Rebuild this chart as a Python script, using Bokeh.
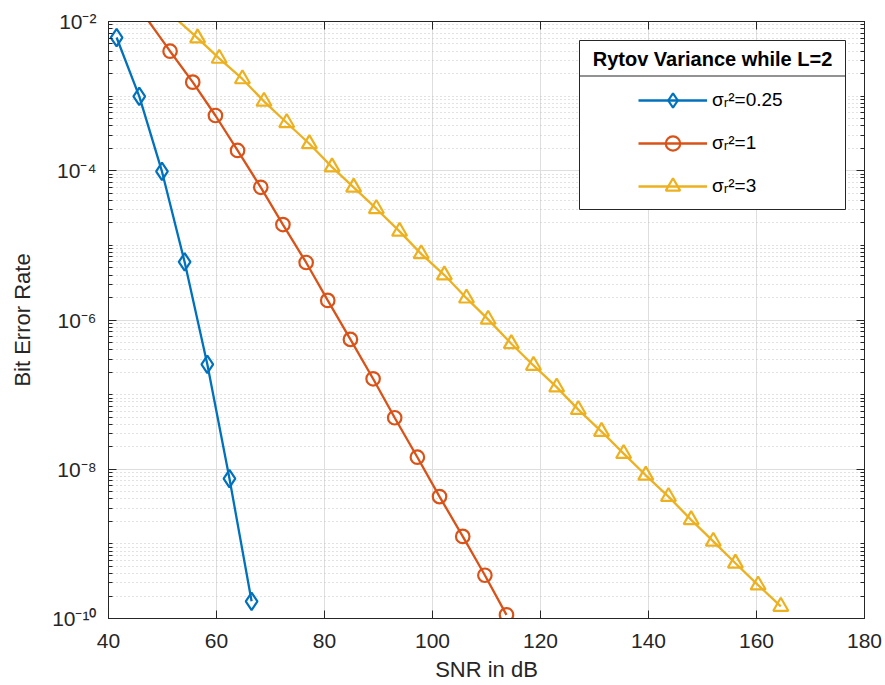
import numpy as np
from bokeh.plotting import figure
from bokeh.models import (FixedTicker, LinearAxis, LogAxis, CustomJSTickFormatter,
                          Legend, LegendItem, BoxAnnotation, Label)
from bokeh.embed import file_html
from bokeh.resources import INLINE

# ---------------- data ----------------
snr_025 = [41.5, 45.7, 49.9, 54.1, 58.3, 62.4, 66.5]
ber_025 = [6.1e-3, 9.9e-4, 9.8e-5, 6.0e-6, 2.55e-7, 7.5e-9, 1.7e-10]

snr_1 = [47.3, 51.4, 55.6, 59.8, 63.9, 68.2, 72.3, 76.6, 80.6, 84.8, 89.0,
         93.0, 97.2, 101.3, 105.6, 109.7, 113.7]
ber_1 = [1.04e-2, 4.0e-3, 1.54e-3, 5.5e-4, 1.87e-4, 6.0e-5, 1.9e-5, 5.9e-6,
         1.83e-6, 5.5e-7, 1.63e-7, 4.9e-8, 1.45e-8, 4.3e-9, 1.26e-9, 3.8e-10,
         1.12e-10]

snr_3 = [52.3, 56.5, 60.5, 64.8, 68.8, 73.0, 77.2, 81.4, 85.4, 89.6, 93.9,
         97.9, 102.2, 106.3, 110.3, 114.6, 118.7, 123.0, 127.0, 131.3, 135.4,
         139.5, 143.7, 147.9, 152.0, 156.1, 160.3, 164.5]
ber_3 = [1.12e-2, 6.0e-3, 3.2e-3, 1.7e-3, 8.5e-4, 4.4e-4, 2.3e-4, 1.12e-4,
         6.0e-5, 3.1e-5, 1.54e-5, 7.7e-6, 4.0e-6, 1.96e-6, 1.02e-6, 4.8e-7,
         2.46e-7, 1.26e-7, 6.3e-8, 3.2e-8, 1.62e-8, 8.3e-9, 4.3e-9, 2.1e-9,
         1.08e-9, 5.5e-10, 2.8e-10, 1.45e-10]

x_ticks = [40, 60, 80, 100, 120, 140, 160, 180]
y_ticks = [1e-10, 1e-8, 1e-6, 1e-4, 1e-2]
series_labels = ["σᵣ²=0.25", "σᵣ²=1", "σᵣ²=3"]
legend_title = "Rytov Variance while L=2"
x_label = "SNR in dB"
y_label = "Bit Error Rate"

X_MIN, X_MAX = 40, 180
Y_MIN, Y_MAX = 1e-10, 1e-2

# ---------------- styling ----------------
FONT = "Liberation Sans"
AX_COL = "#262626"
COLORS = ["#0072BD", "#D95319", "#EDB120"]

W, H = 885, 685
LEFT, RIGHT, TOP, BOTTOM = 108, 21, 21, 67

p = figure(width=W, height=H, x_range=(X_MIN, X_MAX), y_range=(Y_MIN, Y_MAX),
           y_axis_type="log", output_backend="svg", toolbar_location=None,
           min_border_left=LEFT, min_border_right=RIGHT,
           min_border_top=TOP, min_border_bottom=BOTTOM)
p.background_fill_color = "white"
p.border_fill_color = "white"
p.outline_line_color = AX_COL
p.outline_line_width = 1

minor_y = [m * 10.0 ** k for k in range(-10, -2) for m in range(1, 10)
           if not (m == 1 and k % 2 == 0)]

def xt():
    return FixedTicker(ticks=x_ticks, minor_ticks=[])

def yt():
    return FixedTicker(ticks=y_ticks, minor_ticks=minor_y)

fmt_pow = CustomJSTickFormatter(code="""
const sup = {'-':'\u207b','0':'\u2070','1':'\u00b9','2':'\u00b2','3':'\u00b3','4':'\u2074',
             '5':'\u2075','6':'\u2076','7':'\u2077','8':'\u2078','9':'\u2079'};
const e = Math.round(Math.log10(tick));
return '10' + String(e).split('').map(c => sup[c]).join('');
""")

def style_axis(ax):
    ax.axis_line_color = AX_COL
    ax.axis_line_width = 1
    ax.major_tick_line_color = AX_COL
    ax.minor_tick_line_color = AX_COL
    ax.major_tick_in = 8
    ax.major_tick_out = 0
    ax.major_label_text_font = FONT
    ax.major_label_text_font_size = "21px"
    ax.major_label_text_color = AX_COL
    ax.axis_label_text_font = FONT
    ax.axis_label_text_font_size = "22px"
    ax.axis_label_text_font_style = "normal"
    ax.axis_label_text_color = AX_COL

xa = p.xaxis[0]
xa.ticker = xt()
style_axis(xa)
xa.minor_tick_in = 0
xa.minor_tick_out = 0
xa.major_label_standoff = 15
xa.axis_label = x_label
xa.axis_label_standoff = 6

ya = p.yaxis[0]
ya.ticker = yt()
ya.formatter = fmt_pow
style_axis(ya)
ya.minor_tick_in = 4
ya.minor_tick_out = 0
ya.major_label_standoff = 12
ya.axis_label = y_label
ya.axis_label_standoff = 14

blank = CustomJSTickFormatter(code="return '';")
top_ax = LinearAxis(ticker=xt(), formatter=blank)
style_axis(top_ax)
top_ax.minor_tick_in = 0
top_ax.minor_tick_out = 0
top_ax.major_label_standoff = 0
top_ax.major_label_text_font_size = "1px"
p.add_layout(top_ax, "above")

right_ax = LogAxis(ticker=yt(), formatter=CustomJSTickFormatter(code="return '';"))
style_axis(right_ax)
right_ax.minor_tick_in = 4
right_ax.minor_tick_out = 0
right_ax.major_label_standoff = 0
right_ax.major_label_text_font_size = "1px"
p.add_layout(right_ax, "right")

# grids
p.xgrid.ticker = xt()
p.xgrid.grid_line_color = "#dedede"
p.xgrid.grid_line_width = 1
p.ygrid.ticker = yt()
p.ygrid.grid_line_color = "#dedede"
p.ygrid.grid_line_width = 1
p.ygrid.minor_grid_line_color = "#c4c4c4"
p.ygrid.minor_grid_line_dash = "1 3"
p.ygrid.minor_grid_line_width = 1

# ---------------- series ----------------
series = [(snr_025, ber_025, "diamond", 17.5),
          (snr_1, ber_1, "circle", 13.5),
          (snr_3, ber_3, "triangle", 15)]

items = []
for (xs, ys, mk, sz), col, lab in zip(series, COLORS, series_labels):
    ln = p.line(xs, ys, line_color=col, line_width=2.3)
    vis = [i for i, v in enumerate(ys) if v <= Y_MAX]
    sc = p.scatter([xs[i] for i in vis], [ys[i] for i in vis], marker=mk, size=sz,
                   line_color=col, line_width=2.2, fill_alpha=0)
    items.append(LegendItem(label=lab, renderers=[ln, sc]))

# ---------------- legend ----------------
box = BoxAnnotation(left=579, right=845, top=40, bottom=209,
                    left_units="canvas", right_units="canvas",
                    top_units="canvas", bottom_units="canvas",
                    fill_color="white", fill_alpha=1.0,
                    line_color=AX_COL, line_alpha=1.0, line_width=1)
p.add_layout(box)
sep = BoxAnnotation(left=579, right=845, top=75, bottom=76,
                    left_units="canvas", right_units="canvas",
                    top_units="canvas", bottom_units="canvas",
                    fill_color=AX_COL, fill_alpha=1.0, line_alpha=0)
p.add_layout(sep)
title = Label(x=712, y=58, x_units="canvas", y_units="canvas", text=legend_title,
              text_align="center", text_baseline="middle", text_font=FONT,
              text_font_size="20px", text_font_style="bold", text_color="black")
p.add_layout(title)

GLYPH_H = 36
leg = Legend(items=items, location=(638 - LEFT, H - BOTTOM - 204),
             glyph_width=69, glyph_height=GLYPH_H, label_height=22, spacing=7,
             label_standoff=5, padding=0, margin=0,
             border_line_alpha=0, background_fill_alpha=0,
             label_text_font=FONT, label_text_font_size="19px",
             label_text_color="black")
p.add_layout(leg)

open("out.html", "w").write(file_html(p, INLINE))
